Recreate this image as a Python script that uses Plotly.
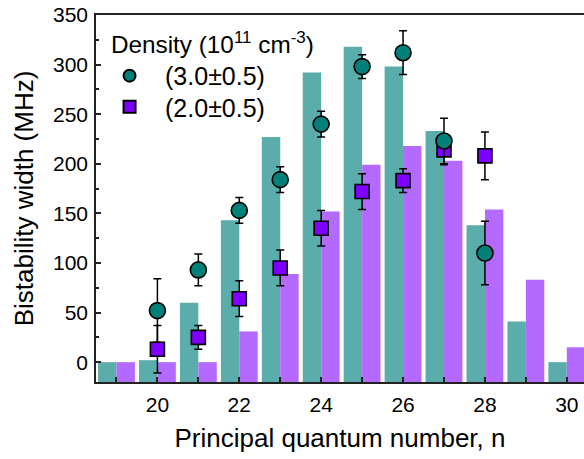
import plotly.graph_objects as go

# ---- data ----
n_bars = [19, 20, 21, 22, 23, 24, 25, 26, 27, 28, 29, 30]
bars_dens3 = [0, 2, 60, 143, 227, 292, 318, 298, 233, 138, 41, 0]
bars_dens2 = [0, 0, 0, 31, 89, 152, 199, 218, 203, 154, 83, 15]

n_pts = [20, 21, 22, 23, 24, 25, 26, 27, 28]
pts_dens3 = [52, 93, 153, 184, 240, 298, 312, 223, 110]
err_dens3 = [32, 16, 13, 13, 13, 12, 22, 23, 32]
pts_dens2 = [13, 25, 64, 95, 135, 172, 183, 214, 208]
err_dens2 = [24, 12, 18, 18, 18, 18, 12, 15, 24]

label3 = "(3.0±0.5)"
label2 = "(2.0±0.5)"
legend_title = "Density (10<sup>11</sup> cm<sup>-3</sup>)"
x_title = "Principal quantum number, n"
y_title = "Bistability width (MHz)"

Y_MIN, Y_MAX = -20, 350
FONT = "Liberation Sans, Arial, sans-serif"

teal_bar = "#5aadaa"
purple_bar = "#b46aff"
teal_pt = "#008079"
purple_pt = "#8000ff"

fig = go.Figure()

fig.add_trace(go.Bar(
    x=n_bars, y=[v - Y_MIN for v in bars_dens3], base=Y_MIN,
    marker=dict(color=teal_bar, line=dict(width=0)),
    offsetgroup="a", showlegend=False, hoverinfo="skip"))
fig.add_trace(go.Bar(
    x=n_bars, y=[v - Y_MIN for v in bars_dens2], base=Y_MIN,
    marker=dict(color=purple_bar, line=dict(width=0)),
    offsetgroup="b", showlegend=False, hoverinfo="skip"))

fig.add_trace(go.Scatter(
    x=n_pts, y=pts_dens2, mode="markers", name=label2, legend="legend2",
    marker=dict(symbol="square", size=14, color=purple_pt,
                line=dict(color="black", width=1.6)),
    error_y=dict(type="data", array=err_dens2, visible=True,
                 color="black", thickness=1.5, width=4)))
fig.add_trace(go.Scatter(
    x=n_pts, y=pts_dens3, mode="markers", name=label3, legend="legend",
    marker=dict(symbol="circle", size=16, color=teal_pt,
                line=dict(color="black", width=1.6)),
    error_y=dict(type="data", array=err_dens3, visible=True,
                 color="black", thickness=1.5, width=4)))

leg_common = dict(
    xanchor="left", yanchor="middle",
    bgcolor="rgba(0,0,0,0)", borderwidth=0,
    font=dict(size=25, family=FONT),
    itemsizing="constant", itemwidth=61,
)

fig.update_layout(
    width=584, height=459,
    margin=dict(l=96, r=0, t=15, b=77),
    paper_bgcolor="white", plot_bgcolor="white",
    font=dict(family=FONT, color="black", size=21),
    barmode="group", bargap=0.1, bargroupgap=0,
    legend=dict(x=-0.004, y=0.834, **leg_common),
    legend2=dict(x=-0.004, y=0.749, **leg_common),
    annotations=[dict(
        text=legend_title, xref="paper", yref="paper",
        x=0.027, y=0.924, xanchor="left", yanchor="middle",
        showarrow=False, font=dict(size=24.3, family=FONT, color="black"))],
    xaxis=dict(
        range=[18.5, 30.42],
        tickmode="array", tickvals=[20, 22, 24, 26, 28, 30],
        ticks="inside", ticklen=5, tickwidth=1.5, tickcolor="#222",
        minor=dict(ticks="inside", dtick=1, tick0=19, ticklen=5, tickwidth=1.5, tickcolor="#222"),
        showline=True, linecolor="#222", linewidth=1.5, mirror=True,
        showgrid=False, zeroline=False,
        title=dict(text=x_title, font=dict(size=26, family=FONT), standoff=14),
        tickfont=dict(size=21), ticklabelstandoff=3,
    ),
    yaxis=dict(
        range=[Y_MIN, Y_MAX],
        tickmode="linear", tick0=0, dtick=50,
        ticks="inside", ticklen=5, tickwidth=1.5, tickcolor="#222",
        minor=dict(ticks="inside", dtick=25, tick0=0, ticklen=3, tickwidth=1.5, tickcolor="#222"),
        showline=True, linecolor="#222", linewidth=1.5, mirror=False,
        showgrid=False, zeroline=False,
        title=dict(text=y_title, font=dict(size=26, family=FONT), standoff=12),
        tickfont=dict(size=21), ticklabelstandoff=2,
    ),
)

fig.write_html("out.html")
